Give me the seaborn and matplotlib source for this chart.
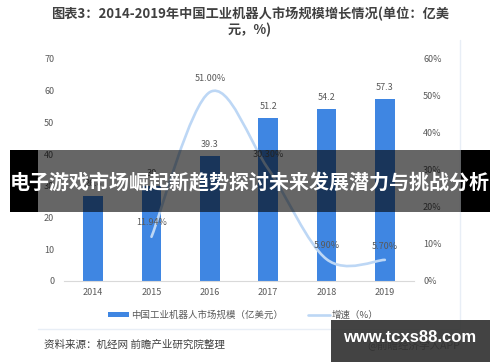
import matplotlib
matplotlib.use("Agg")
import matplotlib.pyplot as plt
import seaborn as sns
from matplotlib.path import Path
from matplotlib.patches import PathPatch, Patch, Rectangle
from matplotlib.lines import Line2D

# data
years = ['2014', '2015', '2016', '2017', '2018', '2019']
market_size = [26.8, 30.0, 39.3, 51.2, 54.2, 57.3]
size_labels = ['26.8', '30', '39.3', '51.2', '54.2', '57.3']
growth_pos = [1, 2, 3, 4, 5]
growth = [11.94, 51.00, 30.30, 5.90, 5.70]
growth_labels = ['11.94%', '51.00%', '30.30%', '5.90%', '5.70%']

W, H = 500, 362


def fx(x):
    return x / W


def fy(y):
    return 1 - y / H


sns.set_style("white")
plt.rcParams['font.family'] = ['Noto Sans CJK SC', 'DejaVu Sans']

bar_color = '#3f86e2'
line_color = '#bdd7f5'
tick_color = '#595959'

fig = plt.figure(figsize=(5, 3.62), dpi=100)
ax = fig.add_axes([fx(64), fy(281), 350 / W, (281 - 58.8) / H])

# bars
sns.barplot(x=years, y=market_size, color=bar_color, saturation=1,
            width=0.34, linewidth=0, ax=ax)
ax.set_xlim(-0.5, 5.5)
ax.set_ylim(0, 70)
ax.set_yticks(range(0, 71, 10))
ax.set_xlabel('')
ax.set_ylabel('')
for s in ['top', 'left', 'right']:
    ax.spines[s].set_visible(False)
ax.spines['bottom'].set_color('#d9d9d9')
ax.tick_params(axis='y', length=0, labelsize=6.5, colors=tick_color, pad=7)
ax.tick_params(axis='x', length=0, labelsize=6.5, colors=tick_color, pad=5)

for i, (v, lbl) in enumerate(zip(market_size, size_labels)):
    ax.annotate(lbl, (i, v), xytext=(0, 8.6), textcoords='offset points',
                ha='center', va='center', fontsize=6.5, color=tick_color)

# growth line on right axis, smoothed like the office chart
ax2 = ax.twinx()
ax2.set_ylim(0, 60)
ax2.set_yticks(range(0, 61, 10))
ax2.set_yticklabels([f'{t}%' for t in range(0, 61, 10)])
for s in ax2.spines.values():
    s.set_visible(False)
ax2.tick_params(axis='y', length=0, labelsize=6.5, colors=tick_color, pad=6.5)

pts = list(zip(growth_pos, growth))
n = len(pts)
verts = [pts[0]]
codes = [Path.MOVETO]
for i in range(n - 1):
    p0 = pts[max(i - 1, 0)]
    p1 = pts[i]
    p2 = pts[i + 1]
    p3 = pts[min(i + 2, n - 1)]
    c1 = (p1[0] + (p2[0] - p0[0]) / 6, p1[1] + (p2[1] - p0[1]) / 6)
    c2 = (p2[0] - (p3[0] - p1[0]) / 6, p2[1] - (p3[1] - p1[1]) / 6)
    verts += [c1, c2, p2]
    codes += [Path.CURVE4] * 3
ax2.add_patch(PathPatch(Path(verts, codes), facecolor='none',
                        edgecolor=line_color, lw=1.9, capstyle='round'))

for x, v, lbl in zip(growth_pos, growth, growth_labels):
    ax2.annotate(lbl, (x, v), xytext=(0, 10), textcoords='offset points',
                 ha='center', va='center', fontsize=6.5, color=tick_color)

# title
fig.text(0.5, fy(22), '图表3：2014-2019年中国工业机器人市场规模增长情况(单位：亿美\n元，%)',
         ha='center', va='center', fontsize=9.5, fontweight='bold',
         color='#404040', linespacing=1.15)

# legend
handles = [Patch(facecolor=bar_color, edgecolor='none'),
           Line2D([0], [0], color=line_color, lw=1.9)]
labels = ['中国工业机器人市场规模（亿美元）', '增速（%）']
fig.legend(handles, labels, loc='center', bbox_to_anchor=(fx(243), fy(315)),
           ncol=2, frameon=False, fontsize=6.8, handlelength=2.3,
           handleheight=0.55, handletextpad=0.2, columnspacing=2.6,
           labelcolor=tick_color)

# chart frame lines
fig.add_artist(Line2D([fx(460), fx(460)], [fy(40), fy(329)], color='#e8eef6', lw=1))
fig.add_artist(Line2D([fx(38), fx(460)], [fy(329), fy(329)], color='#e8eef6', lw=1))

# source
fig.text(fx(44), fy(345), '资料来源：机经网 前瞻产业研究院整理', ha='left', va='center',
         fontsize=7.6, color='#404040')
fig.text(fx(460), fy(345), '@前瞻经济学人APP', ha='right', va='center',
         fontsize=7.6, color='#404040')

# banner overlay
fig.add_artist(Rectangle((fx(10), fy(212)), 28 / W, 62 / H, transform=fig.transFigure,
                         facecolor='black', edgecolor='none', zorder=10))
fig.add_artist(Rectangle((fx(461), fy(212)), 29 / W, 62 / H, transform=fig.transFigure,
                         facecolor='black', edgecolor='none', zorder=10))
fig.add_artist(Rectangle((fx(38), fy(212)), 423 / W, 62 / H, transform=fig.transFigure,
                         facecolor='black', alpha=0.6, edgecolor='none', zorder=10))
fig.text(0.5, fy(182), '电子游戏市场崛起新趋势探讨未来发展潜力与挑战分析',
         ha='center', va='center', fontsize=14.4, fontweight='bold',
         color='white', zorder=11)

# site watermark box
fig.add_artist(Rectangle((fx(331), 0), 159 / W, 42 / H, transform=fig.transFigure,
                         facecolor='#333333', alpha=0.92, edgecolor='none', zorder=10))
fig.text(fx(410), fy(337), 'www.tcxs88.com', ha='center', va='center',
         fontsize=12, fontweight='bold', color='white', zorder=11,
         family='Liberation Sans')

fig.savefig('out.png', dpi=100)
